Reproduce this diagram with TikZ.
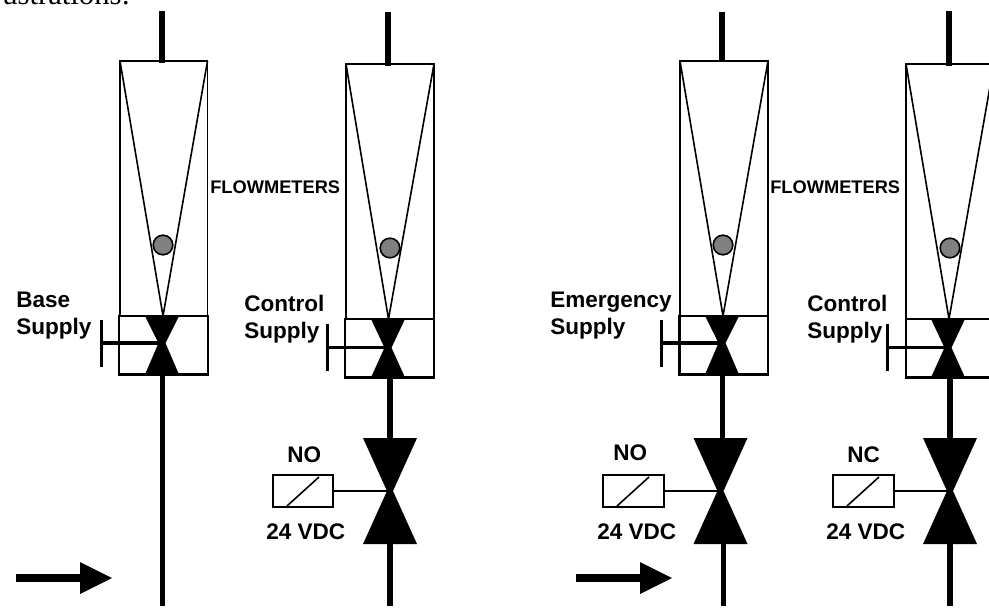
\documentclass[tikz,border=0pt]{standalone}
\usepackage{fontspec}
\setmainfont{Liberation Sans}
\newfontfamily\serifpart{Liberation Serif}
\tikzset{
  px/.style={x=0.75pt,y=-0.75pt},
  thinline/.style={draw=black,line width=1.2pt},
  boxline/.style={draw=black,line width=1.6pt},
  pipe/.style={draw=black,line width=3.9pt},
  handle/.style={draw=black,line width=2.3pt},
  lab/.style={font=\bfseries\fontsize{16.9}{20}\selectfont,inner sep=0pt,anchor=base west,align=left},
  smalllab/.style={font=\bfseries\fontsize{13.7}{16}\selectfont,inner sep=0pt,anchor=base west},
  coil/.style={draw=black,line width=1.7pt,fill=white},
}
% tube: #1 left, #2 right, #3 top, #4 bottom, #5 ball x, #6 ball y, #7 tip x
\newcommand{\tube}[7]{
  \draw[thinline] (#1,#3) rectangle (#2,#4);
  \draw[thinline] (#1,#3) -- (#7,#4) -- (#2,#3);
  \draw[thinline,fill=black!50] (#5,#6) circle (9.8);
}
% hand valve: #1 left #2 right #3 top #4 bottom #5 cx #6 handle x #7 handle top #8 handle bottom #9 mid y
\newcommand{\handvalve}[9]{
  \draw[boxline] (#1,#3) rectangle (#2,#4);
  \fill (#5-17,#3) -- (#5+17,#3) -- (#5+3.5,#9) -- (#5+17,#4) -- (#5-17,#4) -- (#5-3.5,#9) -- cycle;
  \draw[handle] (#6,#7) -- (#6,#8);
  \draw[handle] (#6,#9) -- (#5,#9);
}
% solenoid valve: #1 cx, #2 coil left, #3 coil right
\newcommand{\solvalve}[3]{
  \fill (#1-27,438) -- (#1+27,438) -- (#1+3,491) -- (#1+27,544) -- (#1-27,544) -- (#1-3,491) -- cycle;
  \draw[coil] (#2,475) rectangle (#3,507);
  \draw[line width=1.2pt] (#2+14,506) -- (#2+46,477);
  \draw[line width=1.9pt] (#3,491) -- (#1,491);
}
\begin{document}
\begin{tikzpicture}[px]
\useasboundingbox (0,0) rectangle (989,607);
\fill[white] (0,0) rectangle (989,607);
% clipped line of body text
\begin{scope}
\clip (0,0) rectangle (989,607);
\node[inner sep=0pt,anchor=base west,font=\serifpart\fontsize{23}{26}\selectfont] (top) at (2,4) {ustrations:};
\end{scope}
% pipes
\draw[pipe,line width=4.5pt] (162,11) -- (162,63);
\draw[pipe] (388,12) -- (388,66);
\draw[pipe] (722,12) -- (722,62);
\draw[pipe,line width=4.5pt] (949,11) -- (949,66);
\draw[pipe] (162.7,374) -- (162.7,606);
\draw[pipe] (390,376) -- (390,440);
\draw[pipe] (390,540) -- (390,606);
\draw[pipe] (722.7,374) -- (722.7,440);
\draw[pipe] (723.3,540) -- (723.3,606);
\draw[pipe,line width=4.2pt] (950,376) -- (950,440);
\draw[pipe,line width=4.2pt] (950,540) -- (950,606);
% flowmeters
\tube{120}{207.5}{61}{316}{163}{245}{163}
\tube{346}{434}{64}{319}{390}{248}{388.5}
\tube{680}{768}{61}{316}{723}{245}{723}
\tube{906}{994}{64}{319}{950}{248}{949}
% hand valves
\handvalve{119}{208}{316}{374.5}{162}{101.7}{320}{367}{343}
\handvalve{345}{434}{319}{377.5}{388}{327.7}{324}{371}{347.7}
\handvalve{679.5}{768}{316}{374.5}{722}{661.7}{320}{367}{343}
\handvalve{906}{995}{319}{377.5}{948}{887.5}{324}{371}{347.7}
% solenoid valves
\solvalve{390}{273}{333}
\solvalve{720.5}{603}{664}
\solvalve{950}{833}{894}
% labels
\node[smalllab] (f1) at (210,193) {FLOWMETERS};
\node[smalllab] (f2) at (770,193) {FLOWMETERS};
\node[lab] (b1) at (16,307) {Base};
\node[lab] (b2) at (16,334) {Supply};
\node[lab] (c1) at (244,311) {Control};
\node[lab] (c2) at (244,338) {Supply};
\node[lab] (e1) at (550,307) {Emergency};
\node[lab] (e2) at (550,334) {Supply};
\node[lab] (c3) at (807,311) {Control};
\node[lab] (c4) at (807,338) {Supply};
\node[lab] (n1) at (287,462) {NO};
\node[lab] (n2) at (613,460) {NO};
\node[lab] (n3) at (847,462) {NC};
\node[lab] (v1) at (266,539) {24 VDC};
\node[lab] (v2) at (597,539) {24 VDC};
\node[lab] (v3) at (826,539) {24 VDC};
% flow arrows
\coordinate (a1s) at (16,578);
\coordinate (a1e) at (80,578);
\coordinate (a2s) at (576,578);
\coordinate (a2e) at (640,578);
\draw[line width=6pt] (a1s) -- (a1e);
\fill (80,562) -- (112,578) -- (80,594) -- cycle;
\draw[line width=6pt] (a2s) -- (a2e);
\fill (640,562) -- (672,578) -- (640,594) -- cycle;
\end{tikzpicture}
\end{document}
